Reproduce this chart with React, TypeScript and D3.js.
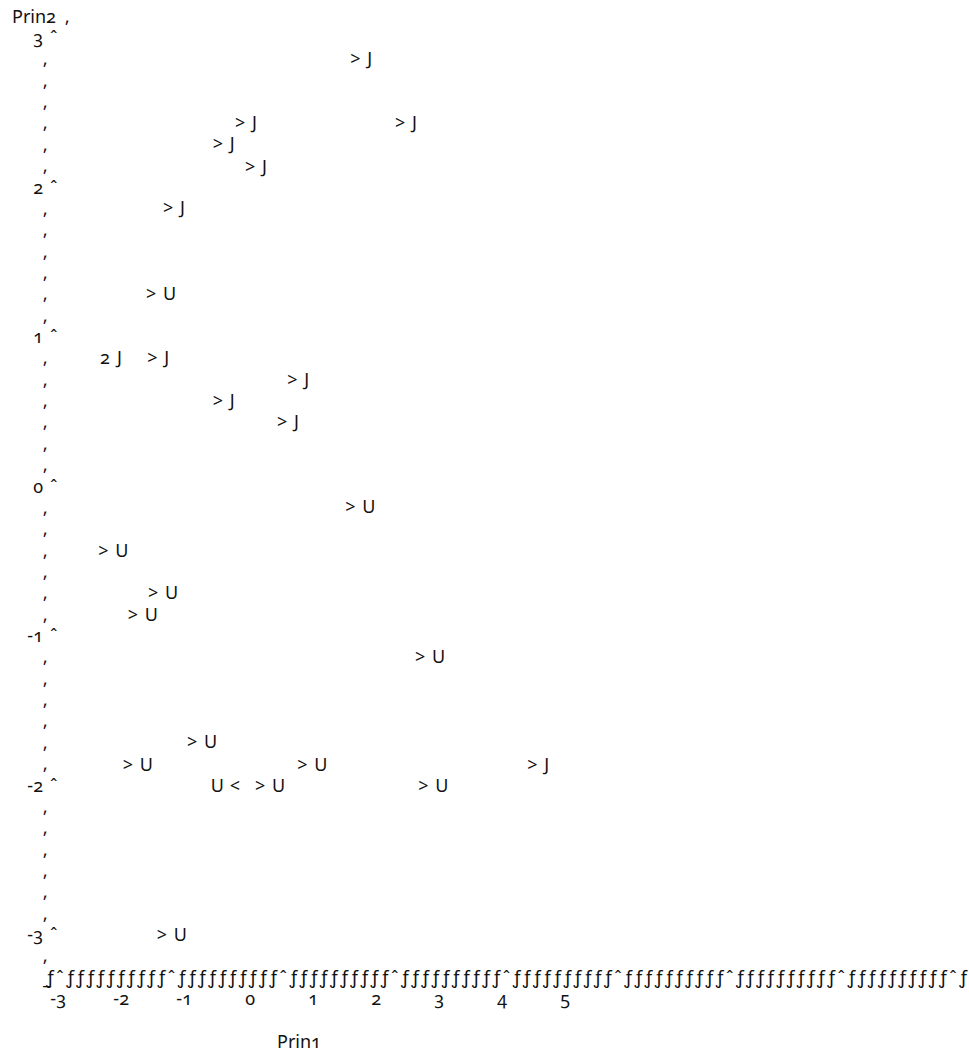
import { useRef, useEffect } from 'react';
import * as d3 from 'd3';

// Prin1 / Prin2 scores
const prin1 = [1.59, -0.24, 2.3, -0.59, -0.08, -1.38, -1.65, -2.38, -1.63, 0.59, -0.59, 0.43, 1.51, -2.41, -1.62, -1.94, 2.62, -1.0, -2.02, 0.75, 4.4, -0.32, 0.08, 2.67, -1.48];
const prin2 = [2.86, 2.43, 2.43, 2.29, 2.14, 1.86, 1.29, 0.86, 0.86, 0.71, 0.57, 0.43, -0.14, -0.43, -0.71, -0.86, -1.14, -1.71, -1.86, -1.86, -1.86, -2.0, -2.0, -2.0, -3.0];
const groups = ['J', 'J', 'J', 'J', 'J', 'J', 'U', 'J', 'J', 'J', 'J', 'J', 'U', 'U', 'U', 'U', 'U', 'U', 'U', 'U', 'J', 'U', 'U', 'U', 'U'];
const symbols = ['>', '>', '>', '>', '>', '>', '>', '2', '>', '>', '>', '>', '>', '>', '>', '>', '>', '>', '>', '>', '>', '<', '>', '>', '>'];
const sides = ['r', 'r', 'r', 'r', 'r', 'r', 'r', 'r', 'r', 'r', 'r', 'r', 'r', 'r', 'r', 'r', 'r', 'r', 'r', 'r', 'r', 'l', 'r', 'r', 'r'];

const prin1Ticks = [-3, -2, -1, 0, 1, 2, 3, 4, 5];
const prin2Ticks = [3, 2, 1, 0, -1, -2, -3];

const WIDTH = 969;
const HEIGHT = 1055;
const FONT = '"Noto Sans", "Open Sans", sans-serif';
const ROWS_PER_UNIT = 7;

export default function App() {
  const svgRef = useRef<SVGSVGElement>(null);

  useEffect(() => {
    if (!svgRef.current) return;
    const svg = d3.select(svgRef.current);
    svg.selectAll('*').remove();

    const x = d3.scaleLinear().domain([-3, 5]).range([61, 565]);
    const y = d3.scaleLinear().domain([3, -3]).range([44, 941]);
    const step = (y(-3) - y(3)) / (6 * ROWS_PER_UNIT);
    // tick marks on the printed axis line sit on a wider grid than the labels
    const axisTick = d3.scaleLinear().domain([-3, 5]).range([60, 953]);

    const g = svg.append('g')
      .attr('font-family', FONT)
      .attr('font-size', 18)
      .attr('fill', '#111')
      .style('font-variant-numeric', 'oldstyle-nums');

    // vertical axis title
    g.append('text').attr('x', 12).attr('y', y(3) - step).text('Prin2');
    g.append('text').attr('x', 65).attr('y', y(3) - step).text('\u201A');

    // vertical axis ticks
    const yt = g.selectAll('g.ytick').data(prin2Ticks).enter().append('g').attr('class', 'ytick');
    yt.append('text')
      .attr('x', 43).attr('y', d => y(d))
      .attr('text-anchor', 'end')
      .text(d => String(d));
    yt.append('text')
      .attr('x', 50).attr('y', d => y(d))
      .text('\u02C6');

    // vertical axis line rows
    const rows = d3.range(1, 6 * ROWS_PER_UNIT + 2).filter(r => r % ROWS_PER_UNIT !== 0 || r > 6 * ROWS_PER_UNIT);
    g.selectAll('text.vbar').data(rows).enter().append('text')
      .attr('class', 'vbar')
      .attr('x', 43)
      .attr('y', r => y(3) + r * step)
      .text('\u201A');

    // horizontal axis line
    const axisY = y(-3) + 2 * step;
    const ax = g.append('g');
    ax.append('text').attr('x', axisTick(-3) - 17).attr('y', axisY).text('_');
    ax.append('text').attr('x', axisTick(-3) - 10).attr('y', axisY).attr('text-anchor', 'middle').text('\u0192');
    const interval = axisTick(-2) - axisTick(-3);
    const fills: number[] = [];
    prin1Ticks.slice(0, -1).forEach(t => {
      d3.range(1, 11).forEach(k => fills.push(axisTick(t) + (k * interval) / 11));
    });
    fills.push(axisTick(5) + interval / 11);
    ax.selectAll('text.h').data(fills).enter().append('text')
      .attr('class', 'h')
      .attr('x', d => d).attr('y', axisY)
      .attr('text-anchor', 'middle')
      .text('\u0192');
    ax.selectAll('text.t').data(prin1Ticks).enter().append('text')
      .attr('class', 't')
      .attr('x', d => axisTick(d)).attr('y', axisY)
      .attr('text-anchor', 'middle')
      .text('\u02C6');

    // horizontal tick labels
    g.selectAll('text.xl').data(prin1Ticks).enter().append('text')
      .attr('class', 'xl')
      .attr('x', d => x(d) + 5)
      .attr('y', axisY + step)
      .attr('text-anchor', 'end')
      .text(d => String(d));

    g.append('text').attr('x', 277).attr('y', axisY + 3 * step).text('Prin1');

    // points: symbol plus group label
    const pts = g.selectAll('g.pt').data(prin1.map((v, i) => i)).enter().append('g').attr('class', 'pt');
    pts.append('text')
      .attr('x', i => x(prin1[i]))
      .attr('y', i => y(prin2[i]))
      .text(i => symbols[i]);
    pts.append('text')
      .attr('x', i => (sides[i] === 'l' ? x(prin1[i]) - 6 : x(prin1[i]) + 17))
      .attr('y', i => y(prin2[i]))
      .attr('text-anchor', i => (sides[i] === 'l' ? 'end' : 'start'))
      .text(i => groups[i]);
  }, []);

  return (
    <svg
      ref={svgRef}
      width={WIDTH}
      height={HEIGHT}
      style={{ position: 'absolute', left: 0, top: 0, background: '#fff' }}
    />
  );
}
